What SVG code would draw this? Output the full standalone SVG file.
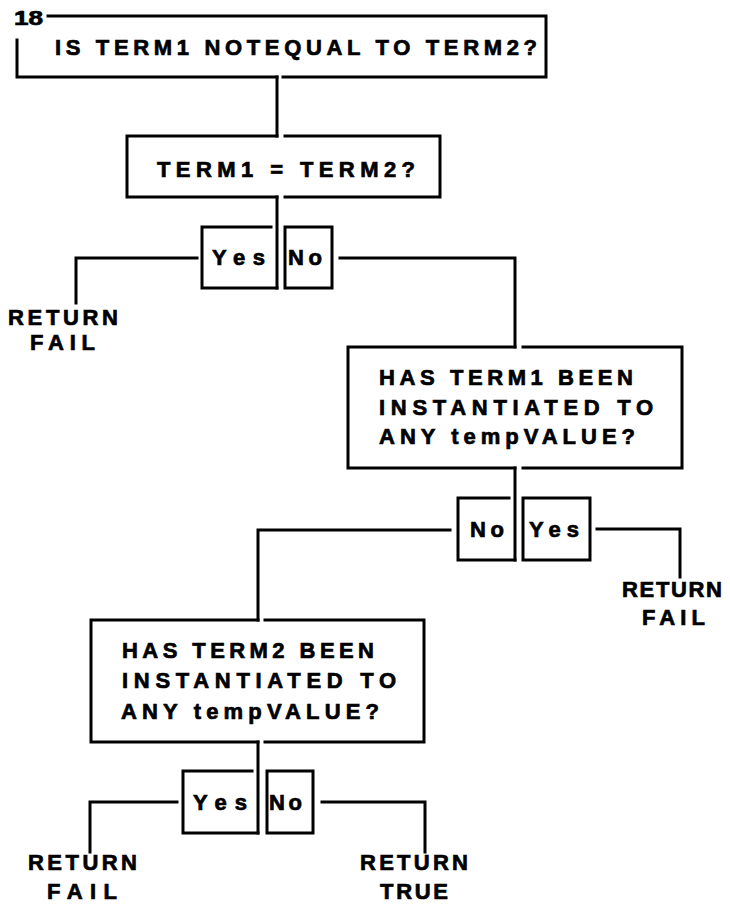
<svg xmlns="http://www.w3.org/2000/svg" width="730" height="905" viewBox="0 0 730 905">
  <style>
    .ln { fill: none; stroke: #000; stroke-width: 3; stroke-linecap: square; stroke-linejoin: miter; }
    .t { font-family: "Liberation Sans", Arial, sans-serif; font-weight: bold; font-size: 22px; fill: #000; stroke: #000; stroke-width: 0.7; }
    .num { font-family: "Liberation Sans", Arial, sans-serif; font-weight: bold; font-size: 20px; fill: #000; stroke: #000; stroke-width: 0.7; }
  </style>
  <rect width="730" height="905" fill="#fff"/>

  <!-- connectors -->
  <g id="connectors">
    <!-- spine into and out of the first test -->
    <path class="ln" d="M277,77 V136"/>
    <path class="ln" d="M277,197 V288"/>
    <path class="ln" d="M197,258 H76 V303"/>
    <path class="ln" d="M340,258 H515 V347"/>
    <!-- out of the second test -->
    <path class="ln" d="M515,468 V560"/>
    <path class="ln" d="M450,530 H258 V620"/>
    <path class="ln" d="M597,529 H680 V577"/>
    <!-- out of the third test -->
    <path class="ln" d="M258,742 V833"/>
    <path class="ln" d="M177,802 H90 V852"/>
    <path class="ln" d="M322,802 H425 V852"/>
  </g>

  <!-- 18: heading frame -->
  <g id="n18">
    <text class="num" x="14" y="25" textLength="29" lengthAdjust="spacingAndGlyphs">18</text>
    <path class="ln" d="M48,16 H546 V77 H283"/>
    <path class="ln" d="M17,40 V77 H277"/>
    <text class="t" x="55" y="55" textLength="482" lengthAdjust="spacing">IS TERM1 NOTEQUAL TO TERM2?</text>
  </g>

  <g id="eq-test">
    <path class="ln" d="M277,136 H127 V197 H277"/>
    <path class="ln" d="M285,136 H440 V197 H285"/>
    <text class="t" x="157" y="177" textLength="258" lengthAdjust="spacing">TERM1 = TERM2?</text>
  </g>

  <g id="eq-yes">
    <path class="ln" d="M271,227 H202 V288 H277"/>
    <text class="t" x="212" y="265" textLength="53" lengthAdjust="spacing">Yes</text>
  </g>
  <g id="eq-no">
    <path class="ln" d="M285,227 H332 V288 H285 Z"/>
    <text class="t" x="288" y="265" textLength="34" lengthAdjust="spacing">No</text>
  </g>

  <g id="ret-fail-1">
    <text class="t" x="8" y="325" textLength="110" lengthAdjust="spacing">RETURN</text>
    <text class="t" x="30" y="350" textLength="65" lengthAdjust="spacing">FAIL</text>
  </g>

  <g id="term1-test">
    <path class="ln" d="M515,347 H348 V468 H515"/>
    <path class="ln" d="M523,347 H682 V468 H523"/>
    <text class="t" x="379" y="385" textLength="254" lengthAdjust="spacing">HAS TERM1 BEEN</text>
    <text class="t" x="379" y="415" textLength="274" lengthAdjust="spacing">INSTANTIATED TO</text>
    <text class="t" x="379" y="444" textLength="256" lengthAdjust="spacing">ANY tempVALUE?</text>
  </g>

  <g id="term1-no">
    <path class="ln" d="M509,498 H458 V560 H515"/>
    <text class="t" x="470" y="537" textLength="34" lengthAdjust="spacing">No</text>
  </g>
  <g id="term1-yes">
    <path class="ln" d="M523,498 H590 V560 H523 Z"/>
    <text class="t" x="529" y="537" textLength="50" lengthAdjust="spacing">Yes</text>
  </g>

  <g id="ret-fail-2">
    <text class="t" x="622" y="597" textLength="100" lengthAdjust="spacing">RETURN</text>
    <text class="t" x="642" y="625" textLength="63" lengthAdjust="spacing">FAIL</text>
  </g>

  <g id="term2-test">
    <path class="ln" d="M258,620 H91 V742 H258"/>
    <path class="ln" d="M265,620 H424 V742 H265"/>
    <text class="t" x="122" y="658" textLength="252" lengthAdjust="spacing">HAS TERM2 BEEN</text>
    <text class="t" x="122" y="688" textLength="274" lengthAdjust="spacing">INSTANTIATED TO</text>
    <text class="t" x="121" y="719" textLength="258" lengthAdjust="spacing">ANY tempVALUE?</text>
  </g>

  <g id="term2-yes">
    <path class="ln" d="M252,771 H183 V833 H258"/>
    <text class="t" x="193" y="810" textLength="54" lengthAdjust="spacing">Yes</text>
  </g>
  <g id="term2-no">
    <path class="ln" d="M267,771 H313 V833 H267 Z"/>
    <text class="t" x="269" y="810" textLength="33" lengthAdjust="spacing">No</text>
  </g>

  <g id="ret-fail-3">
    <text class="t" x="28" y="870" textLength="109" lengthAdjust="spacing">RETURN</text>
    <text class="t" x="47" y="899" textLength="70" lengthAdjust="spacing">FAIL</text>
  </g>

  <g id="ret-true">
    <text class="t" x="360" y="870" textLength="108" lengthAdjust="spacing">RETURN</text>
    <text class="t" x="380" y="899" textLength="68" lengthAdjust="spacing">TRUE</text>
  </g>
</svg>
